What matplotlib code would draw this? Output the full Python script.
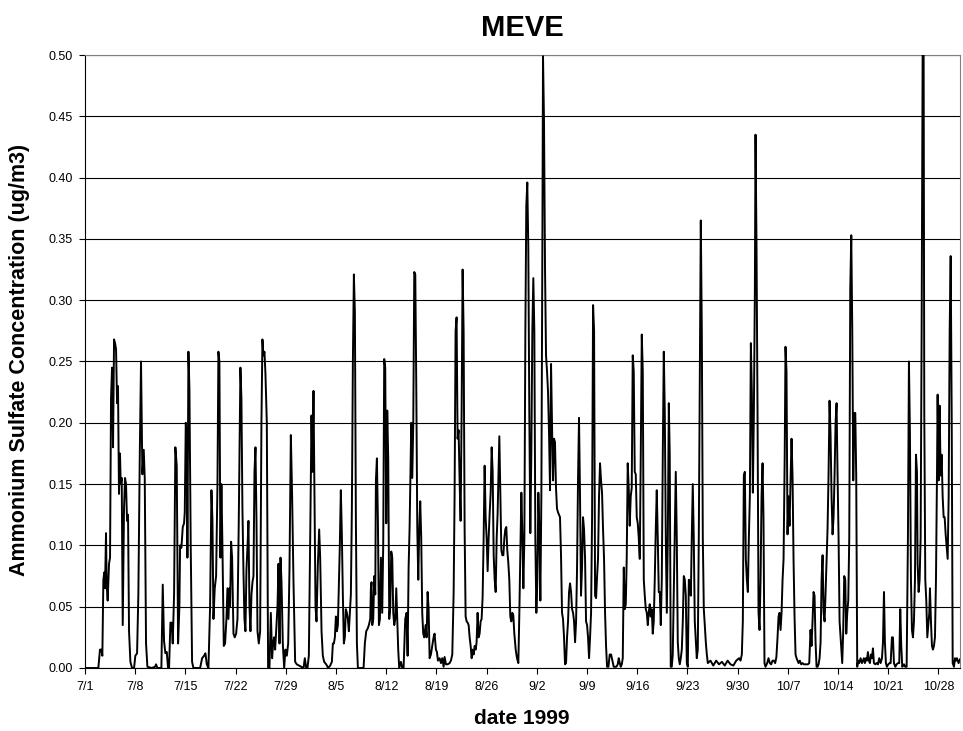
import pandas as pd
import matplotlib
matplotlib.use("Agg")
import matplotlib.pyplot as plt
import matplotlib.dates as mdates
from matplotlib.ticker import MultipleLocator, FormatStrFormatter

plt.rcParams['font.family'] = ['Liberation Sans', 'DejaVu Sans']

# hourly ammonium sulfate at MEVE, (days since 7/1, ug/m3)
july = [
    (0.00, 0.0), (1.86, 0.0), (2.09, 0.015), (2.28, 0.015), (2.42, 0.01),
    (2.56, 0.072), (2.70, 0.078), (2.79, 0.065), (2.93, 0.11), (3.02, 0.068),
    (3.16, 0.055), (3.35, 0.085), (3.49, 0.09), (3.63, 0.22), (3.77, 0.245),
    (3.91, 0.18), (4.05, 0.268), (4.19, 0.265), (4.33, 0.26), (4.47, 0.216),
    (4.60, 0.23), (4.74, 0.142), (4.88, 0.175), (4.98, 0.15), (5.12, 0.155),
    (5.26, 0.035), (5.44, 0.13), (5.58, 0.155), (5.72, 0.15), (5.86, 0.12),
    (6.00, 0.125), (6.14, 0.03), (6.33, 0.005), (6.56, 0.0), (6.84, 0.0),
    (7.02, 0.01), (7.26, 0.012), (7.44, 0.06), (7.63, 0.17), (7.81, 0.25),
    (8.00, 0.158), (8.19, 0.178), (8.33, 0.155), (8.51, 0.02), (8.70, 0.001),
    (9.30, 0.0), (9.77, 0.001), (9.91, 0.003), (10.09, 0.0), (10.65, 0.0),
    (10.84, 0.068), (11.02, 0.022), (11.21, 0.012), (11.40, 0.013), (11.58, 0.0),
    (11.72, 0.0), (11.91, 0.037), (12.09, 0.037), (12.23, 0.02), (12.42, 0.06),
    (12.60, 0.18), (12.79, 0.165), (12.98, 0.02), (13.16, 0.05), (13.26, 0.10),
    (13.44, 0.098), (13.63, 0.115), (13.81, 0.118), (13.91, 0.127), (14.05, 0.2),
    (14.19, 0.187), (14.28, 0.09), (14.42, 0.258), (14.56, 0.228), (14.74, 0.10),
    (14.93, 0.005), (15.12, 0.0), (16.05, 0.0), (16.33, 0.008), (16.60, 0.01),
    (16.79, 0.012), (16.98, 0.003), (17.21, 0.0), (17.44, 0.05), (17.63, 0.145),
    (17.77, 0.12), (17.91, 0.04), (18.09, 0.065), (18.28, 0.075), (18.47, 0.15),
    (18.60, 0.258), (18.74, 0.25), (18.88, 0.09), (19.02, 0.15), (19.16, 0.10),
    (19.35, 0.018), (19.53, 0.02), (19.72, 0.04), (19.86, 0.065), (20.00, 0.04),
    (20.14, 0.065), (20.23, 0.05), (20.37, 0.103), (20.51, 0.09), (20.70, 0.028),
    (20.88, 0.025), (21.07, 0.028), (21.26, 0.04), (21.44, 0.12), (21.67, 0.245),
    (21.81, 0.22), (21.95, 0.13), (22.09, 0.08), (22.23, 0.04), (22.37, 0.03),
    (22.51, 0.08), (22.70, 0.105), (22.79, 0.12), (22.93, 0.05), (23.07, 0.03),
    (23.21, 0.06), (23.35, 0.07), (23.49, 0.075), (23.63, 0.16), (23.77, 0.18),
    (23.91, 0.12), (24.05, 0.03), (24.23, 0.02), (24.42, 0.03), (24.60, 0.2),
    (24.74, 0.268), (24.88, 0.255), (25.02, 0.258), (25.16, 0.24), (25.35, 0.2),
    (25.53, 0.0), (25.72, 0.0), (25.91, 0.045), (26.09, 0.008), (26.23, 0.02),
    (26.37, 0.025), (26.51, 0.015), (26.65, 0.03), (26.84, 0.05), (26.98, 0.085),
    (27.12, 0.02), (27.26, 0.09), (27.40, 0.07), (27.58, 0.02), (27.77, 0.0),
    (27.95, 0.015), (28.14, 0.01), (28.33, 0.02), (28.51, 0.08), (28.70, 0.19),
    (28.88, 0.14), (29.07, 0.07), (29.30, 0.005), (29.53, 0.003), (30.47, 0.0),
    (30.65, 0.008), (30.84, 0.0),
]

august = [
    (31.02, 0.0), (31.21, 0.01), (31.40, 0.106), (31.58, 0.206), (31.72, 0.16),
    (31.86, 0.226), (32.00, 0.14), (32.14, 0.05), (32.28, 0.038), (32.47, 0.085),
    (32.65, 0.113), (32.79, 0.09), (32.98, 0.03), (33.16, 0.01), (33.35, 0.005),
    (33.63, 0.003), (33.91, 0.0), (34.19, 0.002), (34.42, 0.005), (34.56, 0.02),
    (34.70, 0.02), (34.84, 0.025), (34.98, 0.042), (35.12, 0.03), (35.26, 0.035),
    (35.40, 0.07), (35.53, 0.1), (35.67, 0.145), (35.81, 0.11), (35.95, 0.06),
    (36.09, 0.02), (36.23, 0.025), (36.37, 0.048), (36.51, 0.045), (36.65, 0.04),
    (36.79, 0.03), (36.93, 0.045), (37.07, 0.06), (37.21, 0.13), (37.35, 0.25),
    (37.49, 0.321), (37.63, 0.29), (37.77, 0.12), (37.91, 0.02), (38.05, 0.0),
    (38.84, 0.0), (39.02, 0.02), (39.21, 0.03), (39.40, 0.032), (39.58, 0.035),
    (39.77, 0.04), (39.86, 0.065), (39.95, 0.07), (40.05, 0.035), (40.19, 0.04),
    (40.33, 0.075), (40.47, 0.06), (40.56, 0.153), (40.70, 0.171), (40.84, 0.12),
    (40.98, 0.035), (41.12, 0.04), (41.26, 0.09), (41.44, 0.045), (41.58, 0.1),
    (41.72, 0.252), (41.86, 0.245), (42.00, 0.118), (42.14, 0.21), (42.28, 0.17),
    (42.42, 0.04), (42.56, 0.05), (42.70, 0.095), (42.84, 0.09), (42.98, 0.045),
    (43.12, 0.035), (43.26, 0.04), (43.40, 0.065), (43.53, 0.04), (43.67, 0.015),
    (43.81, 0.0), (44.05, 0.005), (44.23, 0.0), (44.42, 0.0), (44.65, 0.04),
    (44.84, 0.045), (44.98, 0.01), (45.12, 0.082), (45.26, 0.115), (45.40, 0.165),
    (45.49, 0.2), (45.63, 0.155), (45.77, 0.2), (45.91, 0.323), (46.05, 0.321),
    (46.19, 0.23), (46.33, 0.113), (46.47, 0.072), (46.60, 0.113), (46.74, 0.136),
    (46.88, 0.106), (47.02, 0.045), (47.16, 0.028), (47.30, 0.025), (47.49, 0.035),
    (47.63, 0.025), (47.77, 0.062), (47.91, 0.048), (48.05, 0.008), (48.23, 0.011),
    (48.42, 0.018), (48.60, 0.025), (48.74, 0.028), (48.93, 0.015), (49.07, 0.013),
    (49.21, 0.006), (49.44, 0.008), (49.63, 0.004), (49.81, 0.008), (50.00, 0.001),
    (50.14, 0.009), (50.33, 0.003), (50.56, 0.003), (50.84, 0.004), (51.02, 0.006),
    (51.21, 0.011), (51.40, 0.062), (51.53, 0.14), (51.67, 0.275), (51.81, 0.286),
    (51.95, 0.187), (52.09, 0.194), (52.23, 0.153), (52.37, 0.12), (52.51, 0.208),
    (52.65, 0.325), (52.79, 0.275), (52.93, 0.113), (53.07, 0.042), (53.21, 0.038),
    (53.35, 0.037), (53.49, 0.035), (53.63, 0.025), (53.77, 0.018), (53.91, 0.008),
    (54.05, 0.015), (54.19, 0.011), (54.33, 0.018), (54.47, 0.015), (54.60, 0.021),
    (54.74, 0.045), (54.88, 0.025), (55.02, 0.028), (55.16, 0.038), (55.30, 0.04),
    (55.44, 0.058), (55.58, 0.106), (55.72, 0.165), (55.86, 0.123), (56.00, 0.106),
    (56.14, 0.079), (56.28, 0.106), (56.42, 0.126), (56.56, 0.143), (56.70, 0.18),
    (56.84, 0.16), (56.98, 0.092), (57.12, 0.072), (57.26, 0.062), (57.40, 0.106),
    (57.53, 0.126), (57.67, 0.163), (57.77, 0.189), (57.91, 0.14), (58.05, 0.096),
    (58.19, 0.092), (58.33, 0.092), (58.47, 0.106), (58.60, 0.113), (58.74, 0.115),
    (58.88, 0.096), (59.02, 0.086), (59.16, 0.072), (59.30, 0.042), (59.44, 0.038),
    (59.58, 0.045), (59.72, 0.043), (59.86, 0.028), (60.05, 0.015), (60.23, 0.008),
    (60.42, 0.004), (60.56, 0.045), (60.70, 0.092), (60.84, 0.143), (60.98, 0.11),
    (61.12, 0.065), (61.26, 0.106), (61.40, 0.275), (61.53, 0.377), (61.67, 0.396),
    (61.81, 0.343), (61.95, 0.208),
]

september = [
    (62.09, 0.11), (62.23, 0.174), (62.37, 0.275), (62.51, 0.318), (62.65, 0.275),
    (62.79, 0.106), (62.93, 0.045), (63.07, 0.072), (63.21, 0.143), (63.35, 0.113),
    (63.49, 0.055), (63.63, 0.14), (63.77, 0.343), (63.86, 0.499), (64.00, 0.445),
    (64.14, 0.326), (64.28, 0.255), (64.42, 0.242), (64.56, 0.225), (64.70, 0.191),
    (64.84, 0.145), (64.98, 0.248), (65.12, 0.197), (65.26, 0.153), (65.40, 0.187),
    (65.53, 0.184), (65.67, 0.147), (65.81, 0.13), (65.95, 0.127), (66.09, 0.125),
    (66.23, 0.123), (66.37, 0.092), (66.51, 0.045), (66.65, 0.04), (66.79, 0.025),
    (66.93, 0.003), (67.07, 0.004), (67.21, 0.025), (67.35, 0.038), (67.49, 0.062),
    (67.63, 0.069), (67.77, 0.062), (67.91, 0.048), (68.05, 0.045), (68.19, 0.038),
    (68.33, 0.021), (68.47, 0.038), (68.60, 0.079), (68.74, 0.153), (68.88, 0.204),
    (69.02, 0.14), (69.16, 0.059), (69.30, 0.082), (69.44, 0.123), (69.58, 0.113),
    (69.72, 0.09), (69.86, 0.038), (70.00, 0.035), (70.14, 0.025), (70.28, 0.008),
    (70.42, 0.025), (70.56, 0.045), (70.70, 0.123), (70.84, 0.296), (70.98, 0.275),
    (71.12, 0.059), (71.26, 0.057), (71.40, 0.075), (71.53, 0.089), (71.67, 0.14),
    (71.81, 0.167), (71.95, 0.153), (72.09, 0.143), (72.23, 0.113), (72.37, 0.089),
    (72.51, 0.045), (72.65, 0.018), (72.79, 0.001), (72.98, 0.001), (73.16, 0.011),
    (73.35, 0.011), (73.53, 0.006), (73.72, 0.001), (74.09, 0.001), (74.28, 0.003),
    (74.42, 0.008), (74.56, 0.004), (74.70, 0.001), (74.84, 0.003), (74.98, 0.008),
    (75.12, 0.082), (75.26, 0.048), (75.40, 0.052), (75.53, 0.089), (75.67, 0.167),
    (75.81, 0.147), (75.95, 0.116), (76.09, 0.14), (76.23, 0.147), (76.37, 0.255),
    (76.51, 0.242), (76.65, 0.16), (76.79, 0.158), (76.93, 0.123), (77.07, 0.118),
    (77.21, 0.106), (77.35, 0.089), (77.49, 0.174), (77.63, 0.272), (77.77, 0.242),
    (77.91, 0.072), (78.05, 0.059), (78.19, 0.048), (78.33, 0.045), (78.47, 0.035),
    (78.60, 0.045), (78.74, 0.052), (78.88, 0.042), (79.02, 0.048), (79.16, 0.028),
    (79.30, 0.038), (79.44, 0.072), (79.58, 0.113), (79.72, 0.145), (79.86, 0.106),
    (80.00, 0.062), (80.14, 0.062), (80.28, 0.035), (80.42, 0.072), (80.56, 0.174),
    (80.70, 0.258), (80.84, 0.208), (80.98, 0.106), (81.12, 0.045), (81.26, 0.106),
    (81.40, 0.216), (81.53, 0.174), (81.67, 0.001), (81.81, 0.001), (81.95, 0.011),
    (82.09, 0.062), (82.23, 0.113), (82.37, 0.16), (82.51, 0.106), (82.65, 0.021),
    (82.79, 0.008), (82.93, 0.003), (83.07, 0.008), (83.21, 0.015), (83.35, 0.038),
    (83.49, 0.075), (83.63, 0.072), (83.77, 0.059), (83.91, 0.004), (84.05, 0.001),
    (84.19, 0.072), (84.33, 0.069), (84.47, 0.059), (84.60, 0.106), (84.74, 0.15),
    (84.88, 0.106), (85.02, 0.038), (85.16, 0.023), (85.30, 0.008), (85.44, 0.015),
    (85.58, 0.106), (85.72, 0.242), (85.86, 0.365), (86.00, 0.275), (86.14, 0.106),
    (86.28, 0.048), (86.42, 0.035), (86.56, 0.021), (86.70, 0.011), (86.84, 0.004),
    (87.21, 0.006), (87.60, 0.002), (88.00, 0.006), (88.40, 0.003), (88.80, 0.005),
    (89.20, 0.002), (89.60, 0.006), (90.00, 0.003), (90.40, 0.002), (90.80, 0.006),
    (91.21, 0.008), (91.40, 0.006), (91.58, 0.011), (91.72, 0.038), (91.86, 0.157),
]

october = [
    (92.00, 0.16), (92.14, 0.089), (92.28, 0.072), (92.42, 0.062), (92.56, 0.106),
    (92.70, 0.14), (92.84, 0.265), (92.98, 0.224), (93.12, 0.143), (93.26, 0.208),
    (93.40, 0.309), (93.49, 0.435), (93.63, 0.343), (93.77, 0.208), (93.91, 0.045),
    (94.05, 0.031), (94.19, 0.072), (94.33, 0.14), (94.47, 0.167), (94.60, 0.123),
    (94.74, 0.004), (94.88, 0.001), (95.12, 0.004), (95.30, 0.008), (95.49, 0.004),
    (95.67, 0.003), (95.86, 0.006), (96.05, 0.006), (96.23, 0.004), (96.40, 0.009),
    (96.56, 0.025), (96.70, 0.042), (96.84, 0.045), (96.98, 0.031), (97.12, 0.045),
    (97.26, 0.072), (97.40, 0.089), (97.56, 0.174), (97.67, 0.262), (97.81, 0.242),
    (97.95, 0.109), (98.09, 0.14), (98.23, 0.116), (98.37, 0.153), (98.51, 0.187),
    (98.65, 0.157), (98.79, 0.089), (98.93, 0.042), (99.07, 0.011), (99.21, 0.008),
    (99.35, 0.006), (99.49, 0.004), (99.67, 0.006), (99.86, 0.003), (100.05, 0.004),
    (100.23, 0.003), (100.42, 0.003), (100.60, 0.003), (100.79, 0.003), (100.98, 0.004),
    (101.16, 0.031), (101.30, 0.018), (101.44, 0.038), (101.58, 0.062), (101.72, 0.059),
    (101.86, 0.021), (102.00, 0.001), (102.14, 0.001), (102.28, 0.003), (102.42, 0.008),
    (102.56, 0.021), (102.70, 0.072), (102.84, 0.092), (102.98, 0.045), (103.12, 0.038),
    (103.26, 0.062), (103.40, 0.089), (103.53, 0.113), (103.67, 0.157), (103.81, 0.218),
    (103.95, 0.191), (104.09, 0.14), (104.23, 0.109), (104.37, 0.123), (104.51, 0.157),
    (104.65, 0.2), (104.79, 0.216), (104.93, 0.157), (105.07, 0.106), (105.21, 0.038),
    (105.35, 0.025), (105.58, 0.004), (105.72, 0.031), (105.86, 0.075), (106.00, 0.072),
    (106.14, 0.028), (106.28, 0.045), (106.42, 0.055), (106.56, 0.106), (106.70, 0.309),
    (106.84, 0.353), (106.98, 0.275), (107.12, 0.153), (107.26, 0.208), (107.40, 0.208),
    (107.53, 0.157), (107.67, 0.001), (107.81, 0.006), (107.95, 0.004), (108.14, 0.008),
    (108.33, 0.004), (108.47, 0.006), (108.60, 0.008), (108.74, 0.004), (108.88, 0.008),
    (109.02, 0.006), (109.16, 0.013), (109.30, 0.006), (109.44, 0.004), (109.58, 0.011),
    (109.72, 0.008), (109.86, 0.016), (110.00, 0.004), (110.19, 0.003), (110.37, 0.004),
    (110.56, 0.003), (110.74, 0.008), (110.93, 0.004), (111.12, 0.008), (111.26, 0.021),
    (111.40, 0.062), (111.53, 0.021), (111.67, 0.004), (111.81, 0.001), (112.00, 0.003),
    (112.19, 0.004), (112.33, 0.004), (112.51, 0.025), (112.65, 0.025), (112.79, 0.004),
    (112.98, 0.001), (113.16, 0.003), (113.35, 0.004), (113.53, 0.004), (113.67, 0.048),
    (113.81, 0.018), (113.95, 0.001), (114.19, 0.003), (114.37, 0.001), (114.56, 0.001),
    (114.74, 0.106), (114.88, 0.25), (115.02, 0.191), (115.16, 0.072), (115.30, 0.031),
    (115.44, 0.025), (115.58, 0.038), (115.72, 0.072), (115.86, 0.174), (116.00, 0.16),
    (116.09, 0.085), (116.23, 0.062), (116.37, 0.072), (116.51, 0.106), (116.65, 0.275),
    (116.79, 0.5), (116.93, 0.5), (117.02, 0.208), (117.16, 0.072), (117.30, 0.055),
    (117.44, 0.025), (117.58, 0.035), (117.72, 0.045), (117.81, 0.065), (117.95, 0.038),
    (118.09, 0.018), (118.23, 0.015), (118.37, 0.018), (118.51, 0.025), (118.65, 0.072),
    (118.79, 0.157), (118.88, 0.223), (119.02, 0.153), (119.16, 0.214), (119.30, 0.157),
    (119.44, 0.174), (119.58, 0.14), (119.72, 0.123), (119.86, 0.123), (120.00, 0.109),
    (120.14, 0.099), (120.28, 0.089), (120.42, 0.14), (120.56, 0.275), (120.70, 0.336),
    (120.84, 0.208), (120.98, 0.004), (121.16, 0.001), (121.30, 0.008), (121.44, 0.006),
    (121.58, 0.008), (121.80, 0.004), (122.00, 0.007),
]

start = pd.Timestamp('1999-07-01')
end = pd.Timestamp('1999-10-31')
tick_dates = pd.date_range('1999-07-01', '1999-10-28', freq='7D')

df = pd.DataFrame(july + august + september + october, columns=['day', 'conc'])
df['date'] = start + pd.to_timedelta(df['day'], unit='D')

fig = plt.figure(figsize=(9.63, 7.31), dpi=100)
ax = fig.add_axes([85 / 963, 1 - 668 / 731, 875 / 963, 613 / 731])

ax.plot(df['date'], df['conc'], color='black', lw=1.4, zorder=3)

ax.set_xlim(start, end)
ax.set_ylim(0, 0.5)
ax.set_xticks(tick_dates)
ax.xaxis.set_major_formatter(mdates.DateFormatter('%-m/%-d'))
ax.yaxis.set_major_locator(MultipleLocator(0.05))
ax.yaxis.set_major_formatter(FormatStrFormatter('%.2f'))
ax.tick_params(direction='out', length=4, width=0.8, labelsize=9, pad=5)

ax.set_axisbelow(True)
ax.grid(axis='y', color='black', lw=0.8)
for s in ['top', 'right']:
    ax.spines[s].set_color('#808080')
for s in ['left', 'bottom']:
    ax.spines[s].set_color('black')

fig.text(522 / 963, 1 - 28 / 731, 'MEVE', ha='center', va='center',
         fontsize=21, fontweight='bold')
fig.text(522 / 963, 1 - 718 / 731, 'date 1999', ha='center', va='center',
         fontsize=15, fontweight='bold')
fig.text(20 / 963, 1 - 360 / 731, 'Ammonium Sulfate Concentration (ug/m3)',
         ha='center', va='center', rotation=90, fontsize=15.5, fontweight='bold')

fig.savefig('out.png', dpi=100)
